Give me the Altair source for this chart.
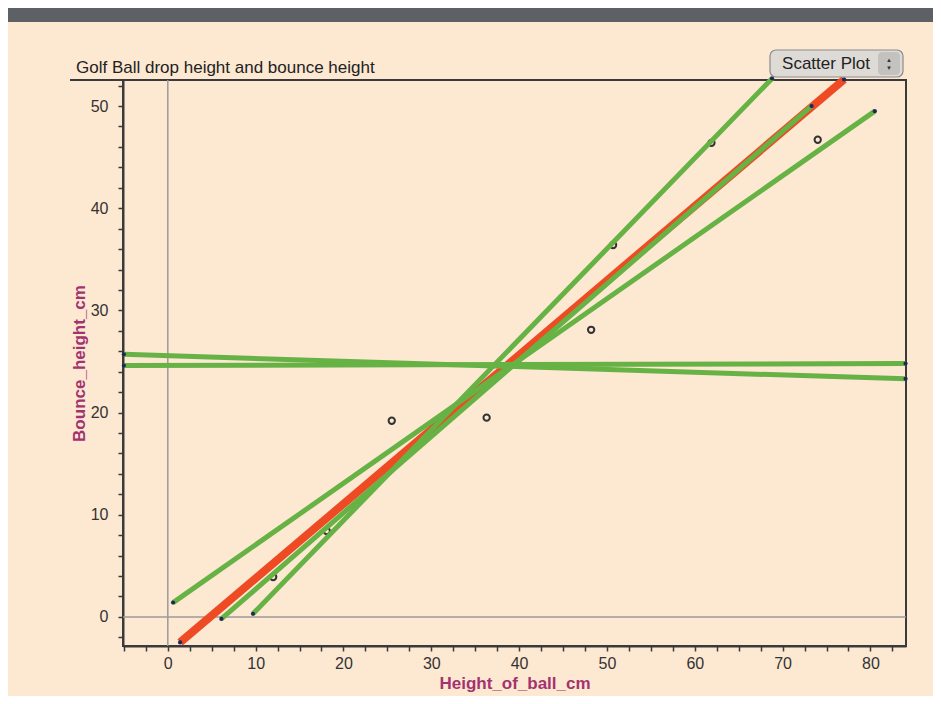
import altair as alt
import pandas as pd

# ---- data ----
pts_x = [12.0, 18.1, 25.5, 36.3, 48.2, 50.7, 61.9, 74.0]
pts_y = [3.9, 8.4, 19.2, 19.5, 28.1, 36.4, 46.4, 46.7]

green_ids = ["A", "A", "B", "B", "C", "C", "D", "D", "E", "E"]
green_x = [0.6, 80.5, 6.1, 73.3, 9.7, 68.8, -5.0, 84.0, -5.0, 84.0]
green_y = [1.4, 49.5, -0.2, 50.0, 0.3, 52.7, 25.7, 23.3, 24.6, 24.8]

red_x = [1.4, 77.0]
red_y = [-2.5, 52.6]

x_ticks = [v / 2 for v in range(-10, 170, 5)]   # every 2.5
y_ticks = list(range(-2, 53, 2))                  # every 2

X_DOM = [-5.1, 84.05]
Y_DOM = [-2.85, 52.55]

W, H = 783, 566

pts = pd.DataFrame({"x": pts_x, "y": pts_y})
green = pd.DataFrame({"id": green_ids, "x": green_x, "y": green_y})
red = pd.DataFrame({"x": red_x, "y": red_y})

xs = alt.Scale(domain=X_DOM, nice=False, zero=False)
ys = alt.Scale(domain=Y_DOM, nice=False, zero=False)

x_axis = alt.Axis(values=x_ticks, title="Height_of_ball_cm",
                  labelExpr="datum.value % 10 == 0 ? format(datum.value, 'd') : ''",
                  labelOverlap=False, titlePadding=4, labelPadding=4)
y_axis = alt.Axis(values=y_ticks, title="Bounce_height_cm",
                  labelExpr="datum.value % 10 == 0 ? format(datum.value, 'd') : ''",
                  labelOverlap=False, titlePadding=2, labelPadding=10)

X = alt.X("x:Q", scale=xs, axis=x_axis)
Y = alt.Y("y:Q", scale=ys, axis=y_axis)

one = alt.Data(values=[{}])

band = alt.Chart(one).mark_rect(color="#5d6166").encode(
    x=alt.value(-115), x2=alt.value(815), y=alt.value(-72), y2=alt.value(-58))

zero_v = alt.Chart(pd.DataFrame({"x": [0]})).mark_rule(color="#9c9a98", strokeWidth=1.5).encode(
    x=alt.X("x:Q", scale=xs, axis=x_axis))
zero_h = alt.Chart(pd.DataFrame({"y": [0]})).mark_rule(color="#9c9a98", strokeWidth=1.5).encode(
    y=alt.Y("y:Q", scale=ys, axis=y_axis))

points = alt.Chart(pts).mark_point(shape="circle", filled=False, color="#333333",
                                   size=40, strokeWidth=2, opacity=1).encode(x=X, y=Y)

red_line = alt.Chart(red).mark_line(color="#ee4a24", strokeWidth=8, strokeCap="butt").encode(x=X, y=Y)
red_dots = alt.Chart(red).mark_circle(color="#1d2a55", size=18, opacity=1).encode(x=X, y=Y)

green_lines = alt.Chart(green).mark_line(color="#66b245", strokeWidth=5, strokeCap="butt").encode(
    x=X, y=Y, detail="id:N")
green_dots = alt.Chart(green).mark_circle(color="#1d2a55", size=18, opacity=1).encode(x=X, y=Y)

top_line = alt.Chart(one).mark_rule(color="#3a3a3a", strokeWidth=2).encode(
    x=alt.value(-53), x2=alt.value(0), y=alt.value(0))

title = alt.Chart(one).mark_text(text="Golf Ball drop height and bounce height", align="left",
                                 baseline="middle", font="Liberation Sans", fontSize=17,
                                 color="#222222").encode(x=alt.value(-47), y=alt.value(-12))

btn = alt.Chart(one).mark_rect(fill="#dedbd6", stroke="#8c8c8c", strokeWidth=1.2,
                               cornerRadius=6).encode(
    x=alt.value(647), x2=alt.value(780), y=alt.value(-30), y2=alt.value(-3))
btn_arrow_bg = alt.Chart(one).mark_rect(fill="#c4c2bf", cornerRadius=4).encode(
    x=alt.value(755), x2=alt.value(777), y=alt.value(-28), y2=alt.value(-5))
btn_text = alt.Chart(one).mark_text(text="Scatter Plot", align="center", baseline="middle",
                                    font="Liberation Sans", fontSize=17, color="#222222").encode(
    x=alt.value(703), y=alt.value(-16))
btn_up = alt.Chart(one).mark_text(text="▲", align="center", baseline="middle",
                                  fontSize=6, color="#333333").encode(x=alt.value(766), y=alt.value(-20))
btn_dn = alt.Chart(one).mark_text(text="▼", align="center", baseline="middle",
                                  fontSize=6, color="#333333").encode(x=alt.value(766), y=alt.value(-12))

chart = alt.layer(
    band, zero_v, zero_h, points, red_line, green_lines, red_dots, green_dots,
    top_line, title, btn, btn_arrow_bg, btn_text, btn_up, btn_dn
).properties(
    width=W, height=H,
    autosize=alt.AutoSizeParams(type="none"),
    padding={"left": 115, "top": 72, "right": 27, "bottom": 50},
    background="#fde8d2",
).configure_view(
    stroke="#3a3a3a", strokeWidth=2
).configure_axis(
    grid=False, domainColor="#3a3a3a", domainWidth=2, tickColor="#3a3a3a",
    tickSize=5, tickWidth=1.5, labelFont="Liberation Sans", labelFontSize=16,
    labelColor="#333333", titleFont="Liberation Sans", titleFontSize=17,
    titleFontWeight="bold", titleColor="#a3336f"
)

chart.save("out.html", embed_options={"renderer": "svg", "actions": False})
